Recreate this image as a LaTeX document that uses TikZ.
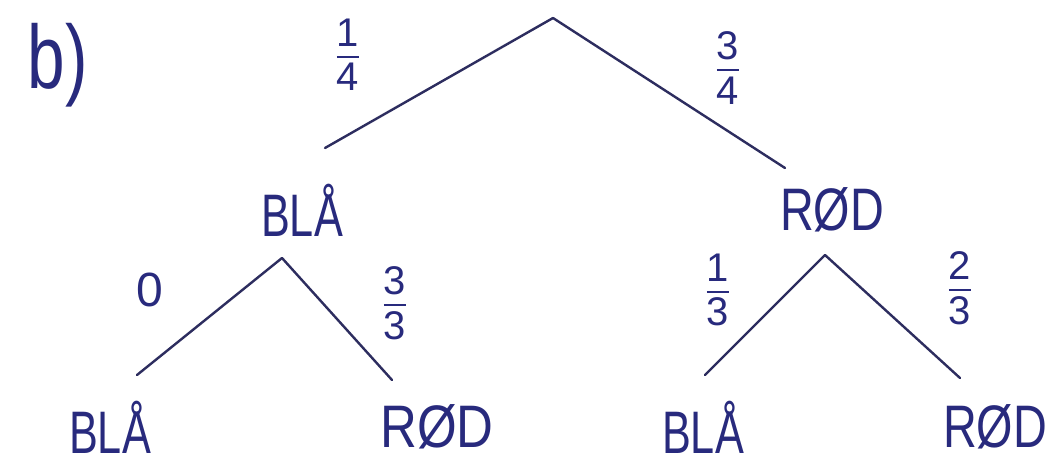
\documentclass[tikz,border=0pt]{standalone}
\usepackage{fontspec}
\usepackage{amsmath}
\setmainfont{Liberation Sans}
\definecolor{ink}{RGB}{40,42,125}
\definecolor{pen}{RGB}{45,45,95}
\newcommand{\hfrac}[2]{\ensuremath{\genfrac{}{}{1.8pt}{0}{\text{#1}}{\text{#2}}}}
\tikzset{
  lbl/.style={text=ink, inner sep=0pt, font=\fontsize{60}{60}\selectfont},
  frac/.style={text=ink, inner sep=0pt, font=\fontsize{40}{40}\selectfont},
  branch/.style={draw=pen, line width=2.4pt, line cap=round}
}
\begin{document}
\begin{tikzpicture}[x=1pt,y=-1pt]
\useasboundingbox (0,0) rectangle (1052,465);
\fill[white] (0,0) rectangle (1052,465);
% title
\node[text=ink, inner sep=0pt, font=\fontsize{90}{90}\selectfont] (title) at (58,65) {\scalebox{0.75}[1]{b)}};
% tree points
\coordinate (root) at (553,18);
\coordinate (l1) at (325,148);
\coordinate (r1) at (785,168);
\coordinate (bt) at (282,258);
\coordinate (bl) at (137,375);
\coordinate (br) at (392,380);
\coordinate (rt) at (825,255);
\coordinate (rl) at (705,375);
\coordinate (rr) at (960,378);
% labels
\node[lbl] (blaA) at (302,210) {\scalebox{0.72}[1]{BLÅ}};
\node[lbl] (rodB) at (832,210) {\scalebox{0.78}[1]{RØD}};
\node[lbl] (blaC) at (110,427) {\scalebox{0.72}[1]{BLÅ}};
\node[lbl] (rodD) at (437,427) {\scalebox{0.85}[1]{RØD}};
\node[lbl] (blaE) at (703,427) {\scalebox{0.72}[1]{BLÅ}};
\node[lbl] (rodF) at (995,427) {\scalebox{0.78}[1]{RØD}};
% branches
\draw[branch] (root) -- (l1);
\draw[branch] (root) -- (r1);
\draw[branch] (bt) -- (bl);
\draw[branch] (bt) -- (br);
\draw[branch] (rt) -- (rl);
\draw[branch] (rt) -- (rr);
% probabilities
\node[frac] (p1) at (348,55) {\hfrac{1}{4}};
\node[frac] (p2) at (728,68) {\hfrac{3}{4}};
\node[text=ink, inner sep=0pt, font=\fontsize{48}{48}\selectfont] (p3) at (150,290) {0};
\node[frac] (p4) at (395,303) {\hfrac{3}{3}};
\node[frac] (p5) at (718,290) {\hfrac{1}{3}};
\node[frac] (p6) at (960,288) {\hfrac{2}{3}};
\end{tikzpicture}
\end{document}
